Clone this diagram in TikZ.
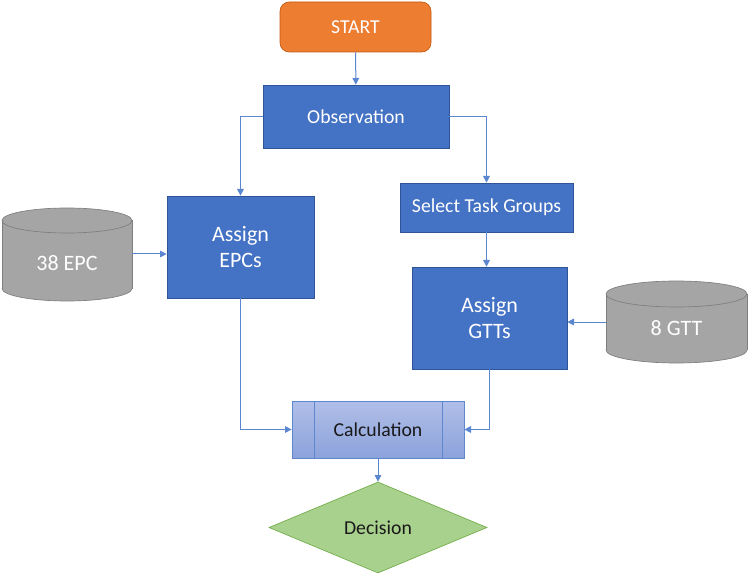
\documentclass[tikz,border=0pt]{standalone}
\usepackage{fontspec}
\setmainfont{Carlito}
\usepackage{xcolor}
\usetikzlibrary{shapes.geometric,arrows.meta}
\definecolor{boxblue}{HTML}{4472C4}
\definecolor{boxedge}{HTML}{2F5597}
\definecolor{lineblue}{HTML}{5B87D0}
\definecolor{startorange}{HTML}{ED7D31}
\definecolor{startedge}{HTML}{C55A11}
\definecolor{dbgray}{HTML}{A5A5A5}
\definecolor{dbedge}{HTML}{7F7F7F}
\definecolor{calctop}{HTML}{B0BFE8}
\definecolor{calcbot}{HTML}{8CA2DB}
\definecolor{decfill}{HTML}{A9D18E}
\definecolor{decedge}{HTML}{70AD47}

\begin{document}
\begin{tikzpicture}[x=0.75pt, y=-0.75pt,
    stepbox/.style={rectangle, fill=boxblue, draw=boxedge, line width=0.5pt, text=white,
        inner sep=0pt, font=\fontsize{14.8}{17}\selectfont},
    bigbox/.style={stepbox, align=center, font=\fontsize{16.5}{19.5}\selectfont},
    startbox/.style={rectangle, rounded corners=7pt, fill=startorange, draw=startedge,
        line width=0.5pt, text=white, font=\fontsize{14.8}{17}\selectfont},
    predef/.style={rectangle, draw=boxblue!85, line width=0.5pt, top color=calctop,
        bottom color=calcbot, text=black!90, font=\fontsize{14.8}{17}\selectfont,
        path picture={\draw[boxblue!85, line width=0.5pt]
            ([xshift=16.5pt]path picture bounding box.north west) -- ([xshift=16.5pt]path picture bounding box.south west)
            ([xshift=-16.5pt]path picture bounding box.north east) -- ([xshift=-16.5pt]path picture bounding box.south east);}},
    decide/.style={diamond, aspect=2.4, fill=decfill, draw=decedge, line width=0.5pt, inner sep=0pt,
        text=black!90, font=\fontsize{14.8}{17}\selectfont},
    dbtext/.style={text=white, font=\fontsize{16.5}{19}\selectfont},
    flow/.style={draw=lineblue, line width=0.75pt, -{Triangle[length=5pt,width=5pt]}}]

    \useasboundingbox (0,0) rectangle (749,577);

    % Databases (cylinders)
    \foreach \cx/\ytop/\ybot/\rx/\ry in {67/220.5/288.5/65/12.5, 676.5/294/350/70.5/13} {
        \filldraw[fill=dbgray, draw=dbedge, line width=0.5pt] (\cx,\ybot) ellipse [x radius=\rx, y radius=\ry];
        \fill[dbgray] ({\cx-\rx},\ytop) rectangle ({\cx+\rx},\ybot);
        \draw[dbedge, line width=0.5pt] ({\cx-\rx},\ytop) -- ({\cx-\rx},\ybot) ({\cx+\rx},\ytop) -- ({\cx+\rx},\ybot);
        \filldraw[fill=dbgray, draw=dbedge, line width=0.5pt] (\cx,\ytop) ellipse [x radius=\rx, y radius=\ry];
    }
    \node[dbtext] (epc) at (67,263) {38 EPC};
    \node[dbtext] (gtt) at (676.5,328) {8 GTT};
    \coordinate (epcout) at (132,254);
    \coordinate (gttout) at (606,322);

    % Process steps
    \node[startbox, minimum width=113.25pt, minimum height=37.5pt] (start) at (355.5,27) {START};
    \node[stepbox, minimum width=139.5pt, minimum height=47.25pt] (obs) at (356,116.5) {Observation};
    \node[bigbox, minimum width=110.25pt, minimum height=76.5pt] (aepc) at (240.5,247) {Assign\\EPCs};
    \node[stepbox, minimum width=129.75pt, minimum height=36.75pt] (sel) at (486.5,207.5) {Select Task Groups};
    \node[bigbox, minimum width=116.25pt, minimum height=76.5pt] (agtt) at (489.5,318) {Assign\\GTTs};
    \node[predef, minimum width=129pt, minimum height=42.75pt] (calc) at (378,429.5) {Calculation};
    \node[decide, minimum width=163.5pt, minimum height=68.25pt] (dec) at (378,527.5) {Decision};

    % Connectors
    \draw[flow] (start) -- (obs);
    \draw[flow] (obs.west) -| (aepc.north);
    \draw[flow] (obs.east) -| (sel.north);
    \draw[flow] (sel.south) -- (sel.south |- agtt.north);
    \draw[flow] (epcout) -- (epcout -| aepc.west);
    \draw[flow] (gttout) -- (gttout -| agtt.east);
    \draw[flow] (aepc.south) |- (calc.west);
    \draw[flow] (agtt.south) |- (calc.east);
    \draw[flow] (calc) -- (dec);
\end{tikzpicture}
\end{document}
